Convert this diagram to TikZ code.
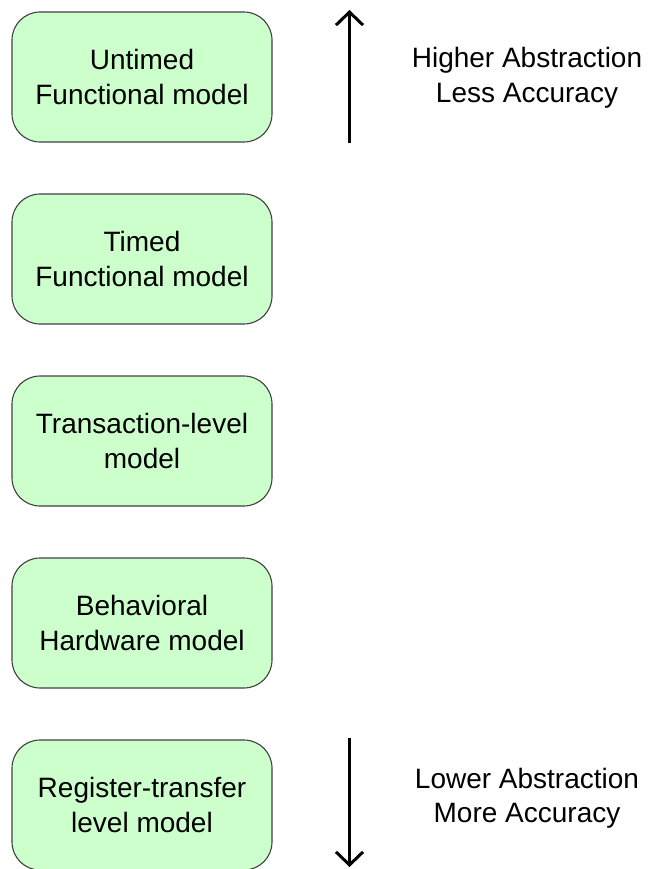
\documentclass[tikz,border=0pt]{standalone}
\usepackage{fontspec}
\setmainfont{Liberation Sans}
\usetikzlibrary{arrows.meta}
\definecolor{boxfill}{HTML}{CCFFCC}
\definecolor{boxline}{HTML}{404040}
\tikzset{
  level/.style={draw=boxline, line width=1.1pt, fill=boxfill, rounded corners=28pt,
    minimum width=260pt, minimum height=130pt, inner sep=0pt, align=center,
    font=\fontsize{28}{34.5}\selectfont},
  note/.style={inner sep=0pt, align=center, font=\fontsize{28}{34.5}\selectfont},
  trend/.style={line width=3pt, -{Straight Barb[length=13pt, width=27pt]}}
}
\begin{document}
\begin{tikzpicture}[x=1pt, y=-1pt]
  \useasboundingbox (0,0) rectangle (652,869);
  % abstraction levels, top to bottom
  \node[level] (utf) at (142,77)  {Untimed\\Functional model};
  \node[level] (tf)  at (142,259) {Timed\\Functional model};
  \node[level] (tlm) at (142,441) {Transaction-level\\model};
  \node[level] (bhm) at (142,623) {Behavioral\\Hardware model};
  \node[level] (rtl) at (142,805) {Register-transfer\\level model};
  % direction arrows
  \coordinate (upfrom) at (349.5,143);
  \coordinate (upto)   at (349.5,10);
  \coordinate (dnfrom) at (349.5,738);
  \coordinate (dnto)   at (349.5,867);
  \draw[trend] (upfrom) -- (upto);
  \draw[trend] (dnfrom) -- (dnto);
  % captions
  \node[note] (hi) at (527,78)  {Higher Abstraction\\Less Accuracy};
  \node[note] (lo) at (527,798) {Lower Abstraction\\More Accuracy};
\end{tikzpicture}
\end{document}
